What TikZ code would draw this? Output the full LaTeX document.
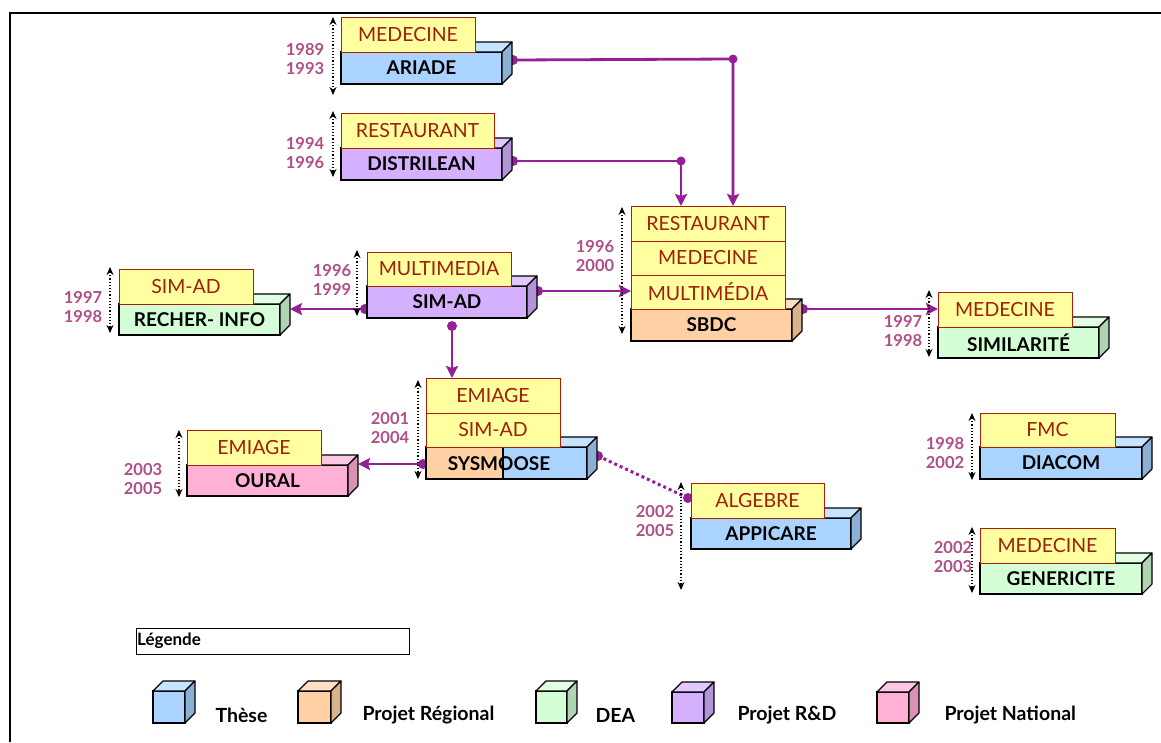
\documentclass[tikz,border=0pt]{standalone}
\usepackage{fontspec}
\setmainfont{Lato}
\usetikzlibrary{arrows.meta}
\definecolor{these}{RGB}{170,212,255}
\definecolor{theseT}{RGB}{196,228,255}
\definecolor{theseS}{RGB}{140,176,212}
\definecolor{reg}{RGB}{255,208,164}
\definecolor{regT}{RGB}{255,224,196}
\definecolor{regS}{RGB}{216,180,140}
\definecolor{dea}{RGB}{212,255,214}
\definecolor{deaT}{RGB}{226,255,228}
\definecolor{deaS}{RGB}{176,212,178}
\definecolor{rd}{RGB}{212,176,255}
\definecolor{rdT}{RGB}{226,200,255}
\definecolor{rdS}{RGB}{178,148,216}
\definecolor{nat}{RGB}{255,176,212}
\definecolor{natT}{RGB}{255,200,226}
\definecolor{natS}{RGB}{218,146,180}
\definecolor{labfill}{RGB}{255,255,160}
\definecolor{labdraw}{RGB}{170,30,10}
\definecolor{labtext}{RGB}{160,30,10}
\definecolor{yrcol}{RGB}{176,78,136}
\definecolor{conncol}{RGB}{150,30,150}
\tikzset{
  frontbox/.style={draw=black, line width=1.1pt, anchor=north west, inner sep=0pt, outer sep=0pt,
    font=\fontsize{19}{21}\selectfont\bfseries},
  edge/.style={draw=black, line width=1.1pt, line join=round},
  labbox/.style={draw=labdraw, fill=labfill, line width=1pt, anchor=north west, inner sep=0pt, outer sep=0pt,
    text=labtext, font=\fontsize{19.5}{21}\selectfont},
  yr/.style={text=yrcol, align=center, font=\fontsize{16.5}{18.5}\selectfont\bfseries},
  tarr/.style={black, line width=1.2pt, dotted, {Stealth[length=8pt,width=7pt]}-{Stealth[length=8pt,width=7pt]}},
  conn/.style={conncol, line width=2.8pt, -{Stealth[length=12pt,width=12pt,inset=2pt]}},
  connd/.style={conncol, line width=3pt, dash pattern=on 3pt off 3pt},
  dot/.style={fill=conncol},
  legtext/.style={anchor=west, font=\fontsize{19.5}{21}\selectfont\bfseries}
}
% block: name, x, y (front top-left), w, h, colour, text
\newcommand\blk[7]{%
  \node[frontbox, fill=#6, minimum width=#4pt, minimum height=#5pt] (#1) at (#2,#3) {#7};
  \draw[edge, fill=#6T] (#1.north west) -- ++(10,-10) -- ([shift={(10pt,10pt)}]#1.north east) -- (#1.north east) -- cycle;
  \draw[edge, fill=#6S] (#1.north east) -- ++(10,-10) -- ([shift={(10pt,10pt)}]#1.south east) -- (#1.south east) -- cycle;
}
% label: name, x, y, w, h, text
\newcommand\lab[6]{%
  \node[labbox, minimum width=#4pt, minimum height=#5pt] (#1) at (#2,#3) {#6};
}
% time arrow: name, x, y1, y2
\newcommand\tarrow[4]{%
  \coordinate (#1-t1) at (#2,#3);
  \coordinate (#1-t2) at (#2,#4);
  \draw[tarr] (#1-t1) -- (#1-t2);
}
\begin{document}
\begin{tikzpicture}[x=1pt, y=-1pt]
\useasboundingbox (0,0) rectangle (1161,742);
\draw[line width=2.5pt] (10,742) -- (10,13) -- (1161,13);

% ---------- connector coordinates ----------
\coordinate (ariade-out) at (513,60);
\coordinate (j1) at (733,59);
\coordinate (distri-out) at (513,161);
\coordinate (j2) at (681,161);
\coordinate (simad-out) at (538,291);
\coordinate (simad-left) at (365,309);
\coordinate (recher-in) at (290,309);
\coordinate (simad-down) at (452,326);
\coordinate (sbdc-out) at (803,309);
\coordinate (sys-left) at (423,464);
\coordinate (oural-in) at (358,464);
\coordinate (sys-right) at (598,456);
\coordinate (appi-in) at (688,498);
\coordinate (sbdc-top1) at (733,206);
\coordinate (sbdc-top2) at (681,206);
\coordinate (sbdc-in) at (631,291);
\coordinate (sys-top) at (452,378);
\coordinate (simil-in) at (938,309);

% ---------- connectors (behind boxes) ----------
\draw[connd] (sys-right) -- (appi-in);
\fill[dot] (sys-right) circle (5pt);
\fill[dot] (appi-in) circle (5pt);
\draw[conn] (ariade-out) -- (j1) -- (sbdc-top1);
\fill[dot] (ariade-out) circle (5pt);
\fill[dot] (j1) circle (4.5pt);
\draw[conn] (distri-out) -- (j2) -- (sbdc-top2);
\fill[dot] (distri-out) circle (5pt);
\fill[dot] (j2) circle (4.5pt);
\draw[conn] (simad-out) -- (sbdc-in);
\fill[dot] (simad-out) circle (5pt);
\draw[conn] (simad-left) -- (recher-in);
\fill[dot] (simad-left) circle (5pt);
\draw[conn] (simad-down) -- (sys-top);
\fill[dot] (simad-down) circle (5pt);
\draw[conn] (sbdc-out) -- (simil-in);
\fill[dot] (sbdc-out) circle (5pt);
\draw[conn] (sys-left) -- (oural-in);
\fill[dot] (sys-left) circle (5pt);

% ---------- blocks ----------
% ARIADE
\blk{ariade}{341}{52}{161}{32}{these}{ARIADE}
\lab{ariade-l}{341}{17}{134}{35}{MEDECINE}
% DISTRILEAN
\blk{distri}{341}{148}{161}{32}{rd}{DISTRILEAN}
\lab{distri-l}{341}{113}{153}{35}{RESTAURANT}
% SBDC
\blk{sbdc}{631}{309}{161}{32}{reg}{SBDC}
\lab{sbdc-l1}{631}{206}{154}{35}{RESTAURANT}
\lab{sbdc-l2}{631}{241}{154}{34}{MEDECINE}
\lab{sbdc-l3}{631}{275}{154}{34}{MULTIMÉDIA}
% SIM-AD
\blk{simad}{367}{286}{160}{32}{rd}{SIM-AD}
\lab{simad-l}{367}{252}{144}{34}{MULTIMEDIA}
% RECHER-INFO
\blk{recher}{119}{304}{161}{31}{dea}{RECHER- INFO}
\lab{recher-l}{119}{269}{134}{35}{SIM-AD}
% SYSMOOSE
\blk{sys}{426}{447}{161}{32}{these}{}
\draw[edge, fill=reg] (sys.north west) rectangle ([xshift=77pt]sys.south west);
\node[font=\fontsize{19}{21}\selectfont\bfseries] (sys-t) at (499,464) {SYSMOOSE};
\lab{sys-l1}{426}{378}{134}{35}{EMIAGE}
\lab{sys-l2}{426}{413}{134}{34}{SIM-AD}
% OURAL
\blk{oural}{187}{465}{161}{31}{nat}{OURAL}
\lab{oural-l}{187}{430}{134}{35}{EMIAGE}
% APPICARE
\blk{appi}{691}{518}{160}{31}{these}{APPICARE}
\lab{appi-l}{691}{483}{133}{35}{ALGEBRE}
% SIMILARITE
\blk{simil}{938}{327}{161}{31}{dea}{SIMILARITÉ}
\lab{simil-l}{938}{292}{134}{35}{MEDECINE}
% DIACOM
\blk{diacom}{980}{447}{162}{32}{these}{DIACOM}
\lab{diacom-l}{980}{413}{135}{34}{FMC}
% GENERICITE
\blk{gener}{980}{563}{162}{31}{dea}{GENERICITE}
\lab{gener-l}{980}{528}{135}{35}{MEDECINE}

% ---------- time arrows and years ----------
\tarrow{ariade}{333}{17}{95}
\node[yr] (ariade-yr) at (305,59) {1989\\1993};
\tarrow{distri}{333}{111}{177}
\node[yr] (distri-yr) at (305,153) {1994\\1996};
\tarrow{sbdc}{622}{207}{334}
\node[yr] (sbdc-yr) at (595,256) {1996\\2000};
\tarrow{simad}{357}{250}{316}
\node[yr] (simad-yr) at (332,280) {1996\\1999};
\tarrow{recher}{110}{267}{333}
\node[yr] (recher-yr) at (83,307) {1997\\1998};
\tarrow{sys}{418}{380}{479}
\node[yr] (sys-yr) at (390,428) {2001\\2004};
\tarrow{oural}{179}{430}{497}
\node[yr] (oural-yr) at (143,479) {2003\\2005};
\tarrow{appi}{681}{482}{590}
\node[yr] (appi-yr) at (655,521) {2002\\2005};
\tarrow{simil}{929}{290}{357}
\node[yr] (simil-yr) at (903,331) {1997\\1998};
\tarrow{diacom}{972}{413}{480}
\node[yr] (diacom-yr) at (945,453) {1998\\2002};
\tarrow{gener}{972}{527}{593}
\node[yr] (gener-yr) at (953,557) {2002\\2003};

% ---------- legend ----------
\node[draw=black, line width=0.8pt, minimum width=273pt, minimum height=26pt, anchor=north west, inner sep=0pt, outer sep=0pt] (legbox) at (136,628) {};
\node[anchor=west, font=\fontsize{17}{19}\selectfont\bfseries, inner sep=1pt] (legtitle) at (legbox.west) {Légende};
\blk{lg1}{153}{691}{32}{32}{these}{}
\node[legtext] (lt1) at (212,715) {Thèse};
\blk{lg2}{298}{691}{33}{32}{reg}{}
\node[legtext] (lt2) at (359,715) {Projet Régional};
\blk{lg3}{536}{691}{31}{32}{dea}{}
\node[legtext] (lt3) at (592,715) {DEA};
\blk{lg4}{672}{692}{32}{31}{rd}{}
\node[legtext] (lt4) at (734,715) {Projet R\&D};
\blk{lg5}{877}{692}{32}{31}{nat}{}
\node[legtext] (lt5) at (941,715) {Projet National};
\end{tikzpicture}
\end{document}
